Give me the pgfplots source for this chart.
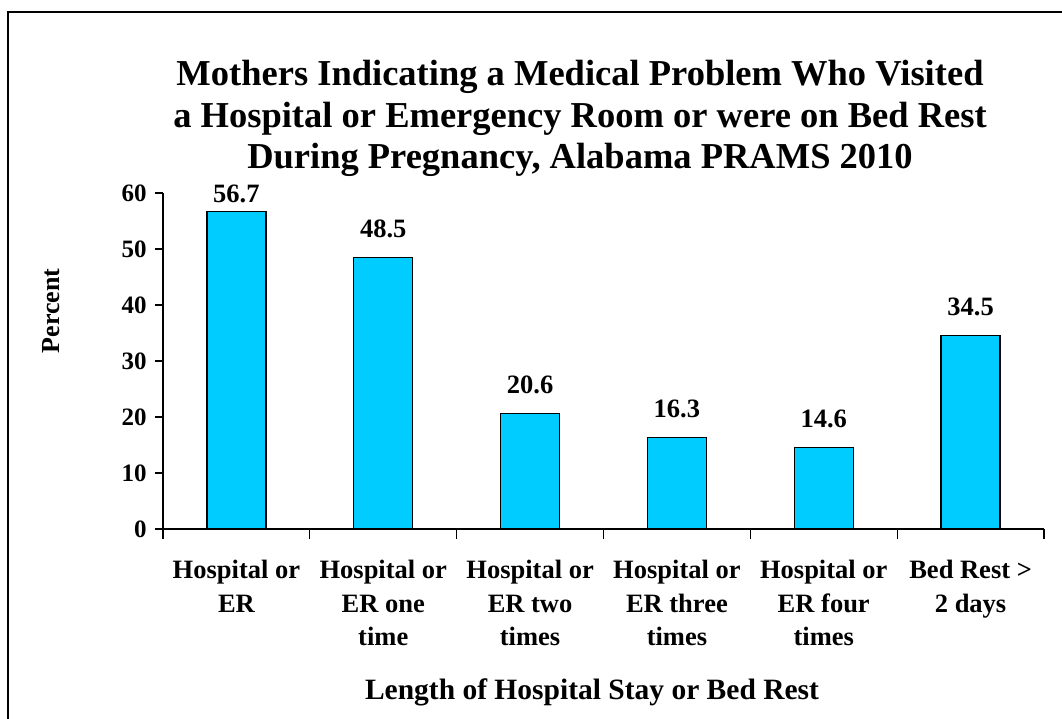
\documentclass[border=0pt]{standalone}
\usepackage{fontspec}
\setmainfont{Liberation Serif}
\usepackage{pgfplots}
\pgfplotsset{compat=1.18}
\definecolor{barcyan}{HTML}{00CCFF}
\begin{document}
\begin{tikzpicture}[x=1pt,y=1pt]
\useasboundingbox (0,0) rectangle (1062,719);
\draw[line width=2pt] (8,-5) -- (8,707) -- (1070,707);
\node[anchor=north, align=center, inner sep=0pt, font=\fontsize{36.5}{41.5}\selectfont\bfseries] at (580,659)
 {Mothers Indicating a Medical Problem Who Visited\\a Hospital or Emergency Room or were on Bed Rest\\During Pregnancy, Alabama PRAMS 2010};
\node[rotate=90, inner sep=0pt, font=\fontsize{26}{30}\selectfont\bfseries] at (51,408) {Percent};
\node[anchor=base, inner sep=0pt, font=\fontsize{29.5}{33}\selectfont\bfseries] at (592,19) {Length of Hospital Stay or Bed Rest};
\begin{axis}[
  at={(163pt,190pt)}, anchor=south west,
  scale only axis, width=881pt, height=336pt,
  xmin=-0.5, xmax=5.5, ymin=0, ymax=60,
  axis x line*=bottom, axis y line*=left,
  axis line style={line width=1.3pt, -},
  ytick={0,10,...,60},
  tick align=outside,
  tick style={line width=1.3pt, black},
  ytick style={/pgfplots/major tick length=8pt},
  xtick={-0.5,0.5,1.5,2.5,3.5,4.5,5.5},
  xticklabels={},
  xtick style={/pgfplots/major tick length=10pt},
  extra x ticks={0,1,2,3,4,5},
  extra x tick style={/pgfplots/major tick length=0pt, tick style={draw=none}},
  extra x tick labels={{Hospital or\\ER},{Hospital or\\ER one\\time},{Hospital or\\ER two\\times},{Hospital or\\ER three\\times},{Hospital or\\ER four\\times},{Bed Rest >\\2 days}},
  xticklabel style={align=center, anchor=north, inner sep=0pt, yshift=-31pt, font=\fontsize{26.5}{33.5}\selectfont\bfseries},
  yticklabel style={font=\fontsize{25}{29}\selectfont\bfseries, inner sep=0pt, xshift=-12pt},
  /pgf/number format/assume math mode=true,
  ybar, bar width=59pt,
  nodes near coords={\pgfmathprintnumber[fixed,fixed zerofill,precision=1]{\pgfplotspointmeta}},
  visualization depends on={rawy \as \rawy},
  every node near coord/.append style={font=\fontsize{26.5}{30}\selectfont\bfseries, inner sep=0pt, anchor=south, yshift={ifthenelse(\rawy>55,7.5,19)*1pt}},
]
\addplot[fill=barcyan, draw=black, line width=1.2pt] coordinates {(0,56.7) (1,48.5) (2,20.6) (3,16.3) (4,14.6) (5,34.5)};
\end{axis}
\end{tikzpicture}
\end{document}
